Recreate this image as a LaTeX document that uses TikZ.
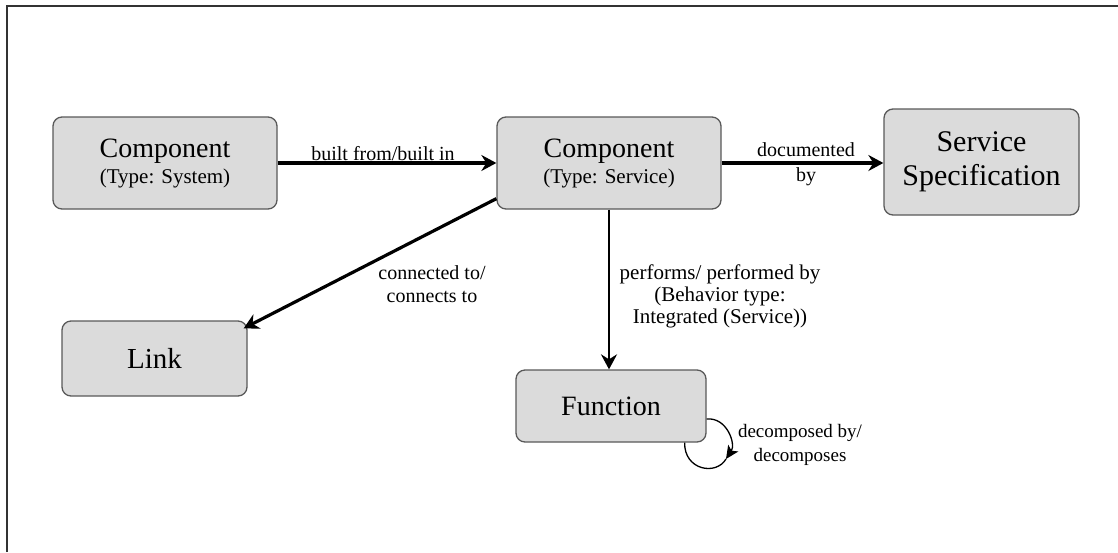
\documentclass[tikz,border=0pt]{standalone}
\usepackage{fontspec}
\setmainfont{LiberationSerif}[Extension=.ttf, UprightFont=*-Regular, BoldFont=*-Bold, ItalicFont=*-Italic, BoldItalicFont=*-BoldItalic]
\usetikzlibrary{arrows.meta}
\begin{document}
\begin{tikzpicture}[x=1pt,y=-1pt,
  box/.style={draw=black!65, fill=black!14, line width=1.3pt, rounded corners=9pt, inner sep=0pt, align=center},
  rel/.style={line width=3.2pt, -{Stealth[length=15pt,width=16pt,inset=5pt]}},
  lbl/.style={inner sep=0pt, align=center},
  loopline/.style={line width=1.3pt}
]
\useasboundingbox (0,0) rectangle (1118,552);
\draw[line width=2pt, black!80] (7,552) -- (7,6) -- (1118,6);

\node[box, minimum width=224pt, minimum height=92pt, font=\fontsize{21}{26}\selectfont] (sys) at (165,163)
  {{\fontsize{28}{26}\selectfont Component}\\(Type: System)};
\node[box, minimum width=224pt, minimum height=92pt, font=\fontsize{21}{26}\selectfont] (svc) at (609,163)
  {{\fontsize{28}{26}\selectfont Component}\\(Type: Service)};
\node[box, minimum width=195pt, minimum height=106pt, font=\fontsize{30}{34}\selectfont] (spec) at (981.5,162)
  {Service\\Specification};
\node[box, minimum width=185pt, minimum height=75pt, font=\fontsize{29}{34}\selectfont] (link) at (154.5,358.5) {Link};
\node[box, minimum width=190pt, minimum height=72pt, font=\fontsize{28}{34}\selectfont] (func) at (611,406) {Function};

\draw[rel] (sys.east) -- (svc.west);
\draw[rel] (svc.east) -- (spec.west |- svc.east);
\draw[rel] ([yshift=11pt]svc.south west) -- ([xshift=-4pt,yshift=-8pt]link.north east);
\draw[rel, line width=2.6pt] (svc.south) -- (svc.south |- func.north);

\coordinate (m) at (726,459);
\draw[loopline, -{Stealth[length=13pt,width=12pt,inset=3pt]}] ([yshift=-13pt]func.east) .. controls (727,417) and (736,444) .. (m);
\draw[loopline] (m) .. controls (716,476) and (684,470) .. ([xshift=-22pt]func.south east);

\node[lbl, font=\fontsize{20}{23}\selectfont] (l1) at (383,154) {built from/built in};
\node[lbl, font=\fontsize{20}{25}\selectfont] (l2) at (806,164.5) {documented\\by};
\node[lbl, font=\fontsize{20}{23}\selectfont] (l3) at (432,284.5) {connected to/\\connects to};
\node[lbl, font=\fontsize{21}{22}\selectfont] (l4) at (720,296) {performs/ performed by\\(Behavior type:\\Integrated (Service))};
\node[lbl, font=\fontsize{19}{24}\selectfont] (l5) at (800,445) {decomposed by/\\decomposes};
\end{tikzpicture}
\end{document}
